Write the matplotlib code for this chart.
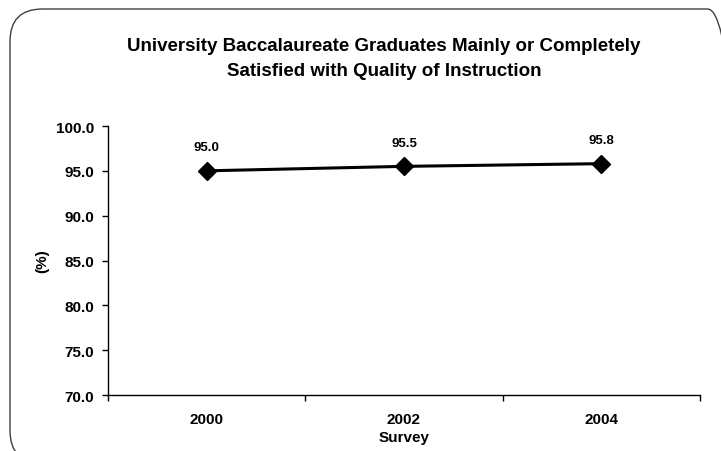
import matplotlib
matplotlib.use("Agg")
import matplotlib.pyplot as plt
from matplotlib.patches import FancyBboxPatch
from matplotlib.ticker import FixedLocator, NullFormatter

plt.rcParams['font.family'] = ['Liberation Sans', 'DejaVu Sans']
plt.rcParams['font.weight'] = 'bold'

# data
surveys = ['2000', '2002', '2004']
satisfied = [95.0, 95.5, 95.8]
y_ticks = [70, 75, 80, 85, 90, 95, 100]

title = ('University Baccalaureate Graduates Mainly or Completely\n'
         'Satisfied with Quality of Instruction')

fig = plt.figure(figsize=(7.21, 4.52), dpi=100)

# rounded chart border (Excel style)
frame = FancyBboxPatch((10 / 721, -12 / 452), 730 / 721, 454 / 452,
                       boxstyle='round,pad=0,rounding_size=0.045',
                       transform=fig.transFigure, facecolor='none',
                       edgecolor='#404040', linewidth=1.0, zorder=-1,
                       mutation_aspect=721 / 452)
fig.patches.append(frame)

ax = fig.add_axes([108 / 721, 1 - 396 / 452, 592 / 721, 269 / 452])
ax.set_facecolor('none')

x = list(range(len(surveys)))
ax.plot(x, satisfied, color='black', linewidth=2.2, marker='D',
        markersize=9, markerfacecolor='black', markeredgecolor='black')
for xi, v in zip(x, satisfied):
    ax.annotate(f'{v:.1f}', (xi, v), xytext=(0, 17), textcoords='offset points',
                ha='center', va='center', fontsize=9.5, fontweight='bold')

ax.set_xlim(-0.5, len(surveys) - 0.5)
ax.set_ylim(70, 100)
ax.set_yticks(y_ticks)
ax.set_yticklabels([f'{t:.1f}' for t in y_ticks])

# major ticks between categories, labels on minor ticks
ax.xaxis.set_major_locator(FixedLocator([i - 0.5 for i in range(len(surveys) + 1)]))
ax.xaxis.set_major_formatter(NullFormatter())
ax.xaxis.set_minor_locator(FixedLocator(x))
ax.set_xticklabels(surveys, minor=True)
ax.tick_params(axis='x', which='major', direction='out', length=4, width=1)
ax.tick_params(axis='x', which='minor', length=0, pad=12, labelsize=11)
ax.tick_params(axis='y', direction='out', length=4, width=1, labelsize=11, pad=6)

for s in ['top', 'right']:
    ax.spines[s].set_visible(False)
for s in ['left', 'bottom']:
    ax.spines[s].set_linewidth(1.0)

ax.set_xlabel('Survey', fontsize=11, fontweight='bold', labelpad=3)
ax.set_ylabel('(%)', fontsize=11, fontweight='bold', labelpad=5)

fig.text(384 / 721, 1 - 59 / 452, title, ha='center', va='center',
         fontsize=13.5, fontweight='bold', linespacing=1.55)

fig.savefig('out.png', dpi=100)
